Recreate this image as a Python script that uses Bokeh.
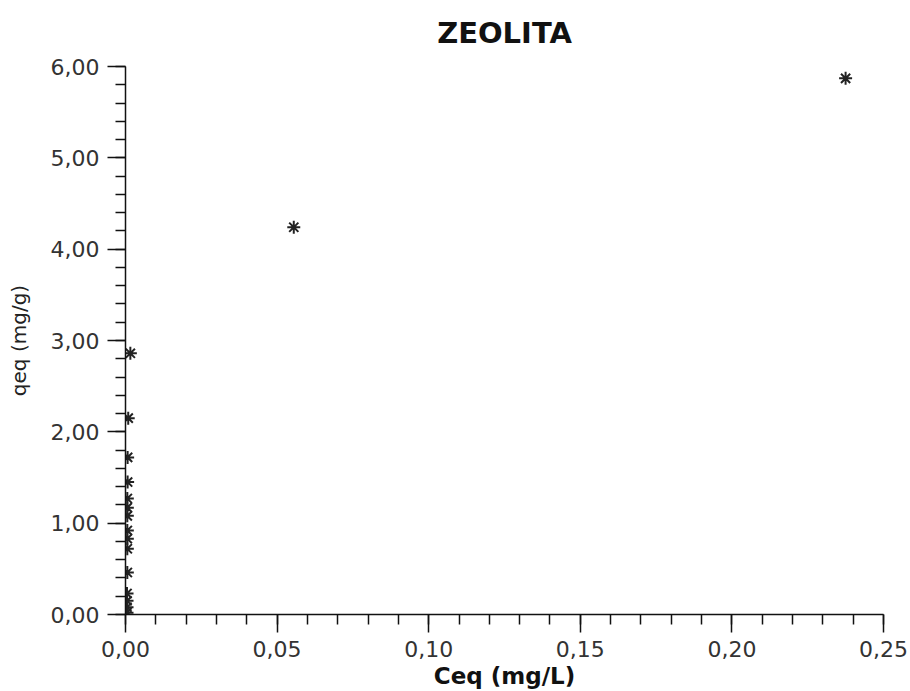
from bokeh.plotting import figure
from bokeh.models import Range1d, CustomJSTickFormatter, FixedTicker, ColumnDataSource
from bokeh.embed import file_html
from bokeh.resources import INLINE

# Data
ceq = [0.2375, 0.0555, 0.0016, 0.0009, 0.0007, 0.0007, 0.0006, 0.0006, 0.0006,
       0.0006, 0.0006, 0.0006, 0.0006, 0.0005, 0.0005, 0.0005, 0.0005]
qeq = [5.87, 4.24, 2.86, 2.15, 1.72, 1.45, 1.27, 1.17, 1.08,
       0.92, 0.83, 0.72, 0.46, 0.23, 0.15, 0.08, 0.02]

x_major = [0.0, 0.05, 0.10, 0.15, 0.20, 0.25]
x_minor = [i * 0.01 for i in range(26)]
y_major = [0, 1, 2, 3, 4, 5, 6]
y_minor = [i * 0.2 for i in range(31)]

TITLE = "ZEOLITA"
FONT = "DejaVu Sans"

p = figure(width=910, height=691, output_backend="svg", toolbar_location=None,
           x_range=Range1d(0, 0.25), y_range=Range1d(0, 6),
           min_border_left=125, min_border_right=27, min_border_top=66, min_border_bottom=77,
           title=TITLE)
p.outline_line_color = None
p.grid.visible = False
p.background_fill_color = "white"
p.border_fill_color = "white"

p.title.align = "center"
p.title.vertical_align = "top"
p.title.text_font = FONT
p.title.text_font_size = "29px"
p.title.text_font_style = "bold"
p.title.text_color = "#111111"
p.title.standoff = 30

src = ColumnDataSource(dict(x=ceq, y=qeq))
p.scatter("x", "y", source=src, marker="asterisk", size=13,
          line_color="#222222", line_width=2)

fmt = CustomJSTickFormatter(code="return tick.toFixed(2).replace('.', ',');")

for ax, maj, mino in ((p.xaxis[0], x_major, x_minor), (p.yaxis[0], y_major, y_minor)):
    ax.ticker = FixedTicker(ticks=maj, minor_ticks=mino)
    ax.formatter = fmt
    ax.axis_line_color = "#111111"
    ax.axis_line_width = 1.5
    ax.major_tick_line_color = "#111111"
    ax.major_tick_line_width = 1.5
    ax.minor_tick_line_color = "#111111"
    ax.minor_tick_line_width = 1.5
    ax.major_tick_out = 18
    ax.major_tick_in = 0
    ax.minor_tick_out = 10
    ax.minor_tick_in = 0
    ax.major_label_text_font = FONT
    ax.major_label_text_font_size = "22px"
    ax.major_label_text_color = "#333333"
    ax.axis_label_text_font = FONT

p.xaxis.axis_label = "Ceq (mg/L)"
p.xaxis.axis_label_text_font_size = "23px"
p.xaxis.axis_label_text_font_style = "bold"
p.xaxis.axis_label_text_color = "#111111"
p.xaxis.major_label_standoff = 8
p.xaxis.axis_label_standoff = 3

p.yaxis.axis_label = "qeq (mg/g)"
p.yaxis.axis_label_text_font_size = "20px"
p.yaxis.axis_label_text_font_style = "normal"
p.yaxis.axis_label_text_color = "#222222"
p.yaxis.major_label_standoff = 8
p.yaxis.axis_label_standoff = 17

open("out.html", "w").write(file_html(p, INLINE))
